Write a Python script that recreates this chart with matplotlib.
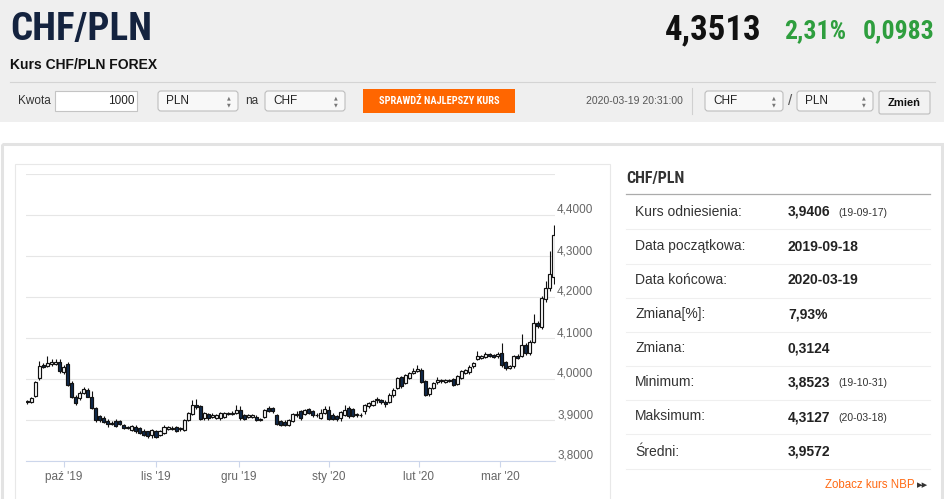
import numpy as np
import pandas as pd
import matplotlib
matplotlib.use("Agg")
import matplotlib.pyplot as plt
from matplotlib import font_manager
from matplotlib.patches import Rectangle, FancyBboxPatch
from matplotlib.ticker import FuncFormatter, FixedLocator
from matplotlib.transforms import ScaledTranslation

# CHF/PLN daily candles, 2019-09-18 .. 2020-03-19 (trading days)
start_date = "2019-09-18"
end_date = "2020-03-19"

opens = [
    3.944, 3.945, 3.958, 4.002, 4.035, 4.032, 4.036, 4.037, 4.042,
    4.017, 4.037, 3.991, 3.957, 3.953, 3.967, 3.974, 3.957, 3.929, 3.909, 3.905, 3.898,
    3.893, 3.898, 3.898, 3.888, 3.882, 3.876, 3.884, 3.880, 3.874, 3.872, 3.864,
    3.872, 3.864, 3.868, 3.879, 3.881, 3.882, 3.877, 3.876, 3.900, 3.914, 3.937,
    3.933, 3.904, 3.914, 3.907, 3.906, 3.904, 3.908, 3.915, 3.915, 3.917,
    3.925, 3.912, 3.907, 3.907, 3.908, 3.900, 3.907, 3.929, 3.929, 3.912, 3.898,
    3.896, 3.888, 3.898, 3.912, 3.921, 3.914, 3.927, 3.921, 3.911, 3.906, 3.917,
    3.925, 3.913, 3.910, 3.905, 3.913, 3.929, 3.927, 3.912, 3.913, 3.921, 3.933, 3.937,
    3.949, 3.949, 3.945, 3.945, 3.960, 3.978, 4.004, 3.990, 4.002, 4.015, 4.019,
    4.023, 3.994, 3.964, 3.978, 3.992, 3.994, 3.993, 3.997, 4.000, 3.989,
    4.002, 4.015, 4.016, 4.031, 4.049, 4.052, 4.054, 4.060, 4.058, 4.055,
    4.064, 4.041, 4.028, 4.031, 4.057, 4.056, 4.084, 4.064, 4.090, 4.137, 4.127,
    4.194, 4.223, 4.250,
]
highs = [
    3.949, 3.957, 3.996, 4.043, 4.040, 4.055, 4.050, 4.050, 4.048,
    4.034, 4.041, 3.994, 3.960, 3.970, 3.980, 3.978, 3.970, 3.932, 3.912, 3.909, 3.902,
    3.897, 3.903, 3.901, 3.891, 3.886, 3.889, 3.887, 3.883, 3.877, 3.874, 3.879,
    3.876, 3.876, 3.888, 3.885, 3.885, 3.885, 3.884, 3.902, 3.919, 3.949, 3.952,
    3.936, 3.920, 3.917, 3.916, 3.914, 3.920, 3.920, 3.920, 3.922, 3.937,
    3.935, 3.915, 3.915, 3.914, 3.911, 3.906, 3.928, 3.933, 3.932, 3.915, 3.901,
    3.899, 3.903, 3.917, 3.921, 3.924, 3.928, 3.930, 3.924, 3.916, 3.927, 3.933,
    3.933, 3.916, 3.913, 3.922, 3.937, 3.935, 3.930, 3.917, 3.916, 3.940, 3.944, 3.950,
    3.957, 3.952, 3.948, 3.965, 3.977, 4.005, 4.007, 4.012, 4.018, 4.028, 4.034,
    4.026, 3.997, 3.981, 3.993, 4.005, 4.000, 4.000, 4.001, 4.003, 4.010,
    4.022, 4.024, 4.033, 4.042, 4.068, 4.058, 4.065, 4.063, 4.062, 4.065,
    4.088, 4.045, 4.034, 4.059, 4.061, 4.109, 4.088, 4.095, 4.158, 4.141, 4.202,
    4.240, 4.313, 4.375,
]
lows = [
    3.939, 3.942, 3.955, 3.998, 4.026, 4.029, 4.032, 4.034, 4.015,
    4.013, 3.983, 3.954, 3.937, 3.949, 3.963, 3.955, 3.926, 3.896, 3.895, 3.892, 3.884,
    3.887, 3.883, 3.888, 3.877, 3.877, 3.873, 3.869, 3.866, 3.861, 3.857, 3.855,
    3.856, 3.860, 3.865, 3.875, 3.876, 3.870, 3.874, 3.873, 3.897, 3.911, 3.928,
    3.899, 3.901, 3.901, 3.904, 3.903, 3.901, 3.905, 3.912, 3.912, 3.914,
    3.901, 3.900, 3.904, 3.904, 3.897, 3.897, 3.904, 3.919, 3.918, 3.887, 3.885,
    3.885, 3.885, 3.895, 3.907, 3.901, 3.911, 3.915, 3.908, 3.908, 3.903, 3.914,
    3.900, 3.900, 3.898, 3.898, 3.910, 3.906, 3.907, 3.908, 3.907, 3.915, 3.930, 3.934,
    3.941, 3.940, 3.931, 3.942, 3.957, 3.975, 3.979, 3.987, 3.999, 4.012, 4.016,
    3.991, 3.958, 3.958, 3.975, 3.989, 3.990, 3.990, 3.992, 3.983, 3.986,
    3.999, 4.012, 4.013, 4.028, 4.046, 4.049, 4.051, 4.053, 4.051, 4.052,
    4.030, 4.022, 4.024, 4.028, 4.050, 4.054, 4.058, 4.058, 4.087, 4.125, 4.122,
    4.188, 4.215, 4.231,
]
closes = [
    3.946, 3.954, 3.993, 4.031, 4.029, 4.039, 4.041, 4.041, 4.019,
    4.030, 3.986, 3.957, 3.941, 3.967, 3.975, 3.957, 3.929, 3.900, 3.899, 3.895, 3.891,
    3.891, 3.886, 3.891, 3.880, 3.880, 3.886, 3.872, 3.869, 3.864, 3.861, 3.876,
    3.859, 3.873, 3.884, 3.882, 3.879, 3.873, 3.881, 3.900, 3.917, 3.937, 3.931,
    3.902, 3.917, 3.904, 3.913, 3.911, 3.917, 3.917, 3.917, 3.918, 3.925,
    3.904, 3.903, 3.912, 3.911, 3.900, 3.903, 3.925, 3.922, 3.921, 3.890, 3.888,
    3.888, 3.900, 3.914, 3.915, 3.904, 3.925, 3.918, 3.911, 3.913, 3.917, 3.927,
    3.903, 3.903, 3.903, 3.919, 3.925, 3.909, 3.910, 3.914, 3.911, 3.937, 3.941, 3.947,
    3.951, 3.943, 3.939, 3.962, 3.974, 4.002, 3.982, 4.009, 4.015, 4.020, 4.025,
    3.993, 3.962, 3.978, 3.990, 3.997, 3.997, 3.997, 3.994, 3.986, 4.007,
    4.019, 4.021, 4.030, 4.039, 4.056, 4.055, 4.060, 4.056, 4.054, 4.060,
    4.035, 4.027, 4.031, 4.056, 4.052, 4.082, 4.064, 4.090, 4.137, 4.129, 4.198,
    4.223, 4.256, 4.351,
]

month_starts = ["2019-10-01", "2019-11-01", "2019-12-01", "2020-01-01", "2020-02-01", "2020-03-01"]
month_labels = ["paź '19", "lis '19", "gru '19", "sty '20", "lut '20", "mar '20"]
y_ticks = [3.8, 3.9, 4.0, 4.1, 4.2, 4.3, 4.4, 4.5]

stats_labels = ["Kurs odniesienia:", "Data początkowa:", "Data końcowa:", "Zmiana[%]:",
                "Zmiana:", "Minimum:", "Maksimum:", "Średni:"]
stats_values = ["3,9406", "2019-09-18", "2020-03-19", "7,93%", "0,3124", "3,8523", "4,3127", "3,9572"]
stats_dates = ["(19-09-17)", "", "", "", "", "(19-10-31)", "(20-03-18)", ""]

# ---------------------------------------------------------------------------
installed = {f.name for f in font_manager.fontManager.ttflist}
BASE = ["Liberation Sans", "DejaVu Sans"]
NARROW = next((n for n in ["Liberation Sans Narrow", "Roboto Condensed", "Open Sans Condensed",
                           "DejaVu Sans Condensed"] if n in installed), "Liberation Sans")
plt.rcParams["font.family"] = BASE

W, H = 945, 499
fig = plt.figure(figsize=(W / 100, H / 100), dpi=100)
fig.patch.set_facecolor("white")
page = fig.add_axes([0, 0, 1, 1])
page.set_xlim(0, W)
page.set_ylim(H, 0)
page.axis("off")


def box(x0, y0, x1, y1, fc, ec="none", lw=0.8, r=0):
    if r:
        p = FancyBboxPatch((x0, y0), x1 - x0, y1 - y0, boxstyle=f"round,pad=0,rounding_size={r}",
                           fc=fc, ec=ec, lw=lw)
    else:
        p = Rectangle((x0, y0), x1 - x0, y1 - y0, fc=fc, ec=ec, lw=lw)
    page.add_patch(p)


def txt(x, y, s, size, color="#333333", weight="normal", ha="left", family=None):
    page.text(x, y, s, fontsize=size, color=color, fontweight=weight, ha=ha, va="center",
              family=family if family else BASE)


def select(x0, x1, label):
    box(x0, 91, x1, 111, "#f8f8f8", "#bdbdbd", 0.8, r=3)
    txt(x0 + 8, 101, label, 8.5, "#222222")
    txt(x1 - 9, 97.5, "▲", 3.5, "#777777", ha="center", family=["DejaVu Sans"])
    txt(x1 - 9, 104.5, "▼", 3.5, "#777777", ha="center", family=["DejaVu Sans"])


# header
box(0, 0, W, 122, "#efefef")
txt(10, 29, "CHF/PLN", 28, "#14233f", "bold", family=[NARROW] + BASE)
txt(762, 30, "4,3513", 25, "#111111", "bold", ha="right", family=[NARROW] + BASE)
txt(846, 31, "2,31%", 18.5, "#2e9e3e", "bold", ha="right", family=[NARROW] + BASE)
txt(935, 31, "0,0983", 18.5, "#2e9e3e", "bold", ha="right", family=[NARROW] + BASE)
txt(10, 65, "Kurs CHF/PLN FOREX", 10, "#111111", "bold")
page.plot([10, 935], [81.5, 81.5], color="#d4d4d4", lw=0.8)

txt(18, 101, "Kwota", 8.5, "#333333")
box(55, 91, 137, 111, "white", "#c4c4c4", 0.8)
txt(135, 101, "1000", 8.5, "#222222", ha="right")
select(158, 238, "PLN")
txt(245, 101, "na", 8.5, "#333333")
select(265, 345, "CHF")
box(363, 89, 515, 113, "#ff6600")
txt(439, 101, "SPRAWDŹ NAJLEPSZY KURS", 7.5, "white", "bold", ha="center", family=[NARROW] + BASE)
txt(683, 101, "2020-03-19 20:31:00", 7.5, "#555555", ha="right")
page.plot([692, 692], [88, 114], color="#d0d0d0", lw=0.8)
select(705, 783, "CHF")
txt(790, 101, "/", 11, "#555555", ha="center")
select(797, 873, "PLN")
box(879, 91, 930, 114, "#f2f2f2", "#bdbdbd", 0.8, r=2)
txt(904.5, 102.5, "Zmień", 8, "#111111", "bold", ha="center")

# panels
page.add_patch(Rectangle((1.5, 143.5), 940, 370, fc="none", ec="#e3e3e3", lw=2.2))
page.add_patch(Rectangle((15, 164), 595, 345, fc="white", ec="#e8e8e8", lw=0.8))

# right stats panel
txt(626, 178, "CHF/PLN", 11.5, "#333333", "bold", family=[NARROW] + BASE)
page.plot([626, 930], [193.5, 193.5], color="#ababab", lw=0.9)
row_y = [211.5, 246, 280, 314, 348, 382, 416.5, 451.5]
for y, lab, val, dt in zip(row_y, stats_labels, stats_values, stats_dates):
    txt(635, y, lab, 10, "#333333")
    txt(788, y + 0.5, val, 10, "#222222", "bold")
    if dt:
        txt(838, y + 1.5, dt, 7.5, "#333333")
    page.plot([626, 930], [y + 17.5, y + 17.5], color="#efefef", lw=0.8)
txt(915, 485, "Zobacz kurs NBP", 8.3, "#ff6a13", ha="right")
txt(923, 485.5, "▸▸", 8, "#333333", ha="center", family=["DejaVu Sans"])

# ---------------------------------------------------------------------------
# candlestick chart
days = pd.bdate_range(start_date, end_date)
idx = np.arange(len(days))
o = np.array(opens)
h = np.array(highs)
l = np.array(lows)
c = np.array(closes)
up = c >= o

ax = fig.add_axes([26 / W, 1 - 461 / H, (555 - 26) / W, (461 - 174) / H])
ax.set_facecolor("white")
ax.vlines(idx, l, h, color="#111111", lw=0.8, zorder=2)
body_lo = np.minimum(o, c)
body_hi = np.maximum(o, c)
ax.bar(idx, body_hi - body_lo, bottom=body_lo, width=0.76,
       color=np.where(up, "white", "#0f2a4d"), edgecolor="#111111", linewidth=0.85, zorder=3)

ax.set_xlim(-0.35, len(days) - 0.7)
ax.set_ylim(3.8, 4.5)

# month ticks placed on the ordinal (trading-day) axis
day_ord = np.array([d.toordinal() for d in days])
tick_pos = [np.interp(pd.Timestamp(m).toordinal(), day_ord, idx) for m in month_starts]
ax.xaxis.set_major_locator(FixedLocator(tick_pos))
ax.set_xticklabels(month_labels)
ax.tick_params(axis="x", length=4.5, width=0.8, color="#ccd6eb", labelcolor="#666666",
               labelsize=8.5, pad=3)

ax.yaxis.set_major_locator(FixedLocator(y_ticks))
ax.yaxis.set_major_formatter(FuncFormatter(
    lambda v, p: "" if v > 4.45 else f"{v:.4f}".replace(".", ",")))
ax.yaxis.tick_right()
ax.tick_params(axis="y", length=0, labelcolor="#666666", labelsize=8.5, pad=1.5)
for lab in ax.get_yticklabels():
    lab.set_transform(lab.get_transform() + ScaledTranslation(0, 0.065, fig.dpi_scale_trans))

ax.grid(axis="y", color="#e6e6e6", lw=0.8, zorder=0)
ax.set_axisbelow(True)
for s in ["top", "left", "right"]:
    ax.spines[s].set_visible(False)
ax.spines["bottom"].set_color("#ccd6eb")
ax.spines["bottom"].set_linewidth(0.8)

fig.savefig("out.png", dpi=100, facecolor="white")
